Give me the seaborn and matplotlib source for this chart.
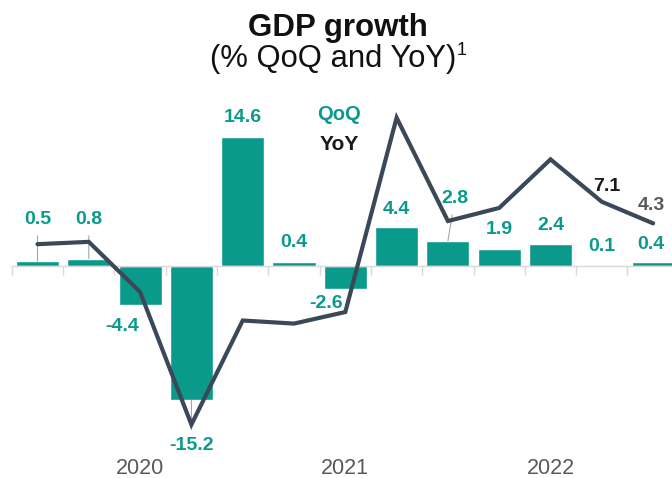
import numpy as np
import pandas as pd
import matplotlib
matplotlib.use("Agg")
import matplotlib.pyplot as plt
import matplotlib.transforms as mtransforms
import seaborn as sns

# quarters (Q3 2019 .. Q3 2022)
quarters = ["2019Q3", "2019Q4", "2020Q1", "2020Q2", "2020Q3", "2020Q4", "2021Q1",
            "2021Q2", "2021Q3", "2021Q4", "2022Q1", "2022Q2", "2022Q3"]
qoq = [0.5, 0.8, -4.4, -15.2, 14.6, 0.4, -2.6, 4.4, 2.8, 1.9, 2.4, 0.1, 0.4]
yoy = [1.6, 1.9, -4.6, -21.8, -8.3, -8.7, -7.2, 18.0, 4.6, 6.3, 12.6, 7.1, 4.3]
year_labels = ["2020", "2021", "2022"]
year_quarters = ["2020Q1", "2021Q1", "2022Q1"]
yoy_labelled = {11: "7.1", 12: "4.3"}

TEAL = "#0a9a8c"
LINE = "#3b4858"
GREY = "#595959"

# label offsets in points (dx, dy) relative to the bar end
label_offsets = [(0, 29.7), (0, 27.8), (-13, -16.1), (0, -32.4), (0, 13.4), (0, 13.8),
                 (-13.7, -11), (0, 12.1), (5, 30.2), (0, 13.7), (0, 13.3), (0, 13), (-1.4, 13)]
leader_idx = [0, 1, 3, 8]

df = pd.DataFrame({"quarter": quarters, "qoq": qoq, "yoy": yoy})
df["pos"] = np.arange(len(df))

sns.set_style("white")
plt.rcParams["font.family"] = ["Liberation Sans", "DejaVu Sans"]

fig = plt.figure(figsize=(6.72, 4.78), dpi=100)
W, H = 672, 478
ax = fig.add_axes([0, 1 - 440 / H, 1, 340 / H])

sns.barplot(data=df, x="quarter", y="qoq", color=TEAL, saturation=1, width=0.84, ax=ax)

xlim = (-0.731, 12.368)
ax.set_xlim(*xlim)
ax.set_ylim(-19.72, 18.74)

# zero line with small ticks between the quarters
for s in ["top", "left", "right"]:
    ax.spines[s].set_visible(False)
ax.spines["bottom"].set_position(("data", 0))
ax.spines["bottom"].set_color("#d9d9d9")
ax.spines["bottom"].set_linewidth(1)
ax.spines["bottom"].set_bounds(-0.5, xlim[1])
ax.set_xticks([])
ax.set_xticks(df["pos"].values - 0.5, minor=True)
ax.tick_params(axis="x", which="minor", direction="out", length=6.5, width=1,
               color="#d9d9d9", bottom=True, labelbottom=False)
ax.set_yticks([])
ax.set_xlabel("")
ax.set_ylabel("")

# bar labels
for i, row in df.iterrows():
    dx, dy = label_offsets[i]
    kw = {}
    if i in leader_idx:
        kw["arrowprops"] = dict(arrowstyle="-", color="#a6a6a6", lw=0.8,
                                shrinkA=3, shrinkB=0)
    ax.annotate(f"{row['qoq']:.1f}", xy=(row["pos"], row["qoq"]),
                xytext=(dx, dy), textcoords="offset points",
                ha="center", va="center", fontsize=14, fontweight="bold",
                color=TEAL, **kw)

# YoY line on its own scale
ax2 = ax.twinx()
ax2.set_position([0, 1 - 440 / H, 1, 340 / H])
sns.lineplot(data=df, x="pos", y="yoy", color=LINE, lw=3, ax=ax2, sort=False)
ax2.lines[0].set_solid_joinstyle("miter")
ax2.set_ylim(-23.8, 20.3)
ax2.set_xlim(*xlim)
ax2.set_yticks([])
ax2.set_ylabel("")
ax2.set_xlabel("")
for s in ax2.spines.values():
    s.set_visible(False)

yoy_offsets = {11: (3.6, 10.8), 12: (-1.2, 13.2)}
yoy_colors = {11: "#1a1a1a", 12: GREY}
for i, txt in yoy_labelled.items():
    ax2.annotate(txt, xy=(df["pos"][i], df["yoy"][i]), xytext=yoy_offsets[i],
                 textcoords="offset points", ha="center", va="center",
                 fontsize=14, fontweight="bold", color=yoy_colors[i])

# year labels
trans = mtransforms.blended_transform_factory(ax.transData, fig.transFigure)
for lab, q in zip(year_labels, year_quarters):
    ax.text(quarters.index(q), 4 / H, lab, transform=trans, ha="center",
            va="baseline", fontsize=15.5, color=GREY, clip_on=False)

# legend as text
fig.text(339 / W, 1 - 120 / H, "QoQ", ha="center", va="baseline", fontsize=14.5,
         fontweight="bold", color=TEAL)
fig.text(339 / W, 1 - 150 / H, "YoY", ha="center", va="baseline", fontsize=15,
         fontweight="bold", color="#1a1a1a")

# titles
fig.text(338 / W, 1 - 36 / H, "GDP growth", ha="center", va="baseline",
         fontsize=22.5, fontweight="bold", color="#111111")
fig.text(333 / W, 1 - 67 / H, "(% QoQ and YoY)", ha="center", va="baseline",
         fontsize=22.3, color="#111111")
fig.text(457 / W, 1 - 55 / H, "1", ha="left", va="baseline", fontsize=13,
         color="#111111")

fig.savefig("out.png", dpi=100)
